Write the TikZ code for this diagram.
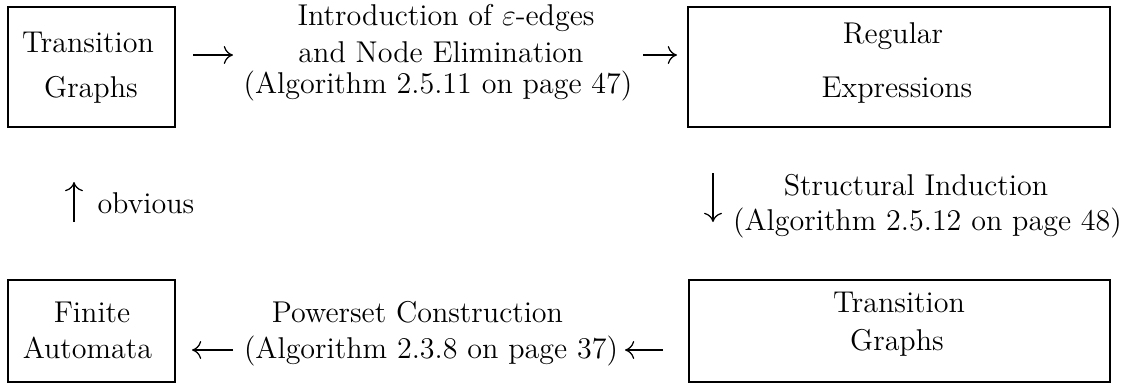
\documentclass[tikz,border=0pt]{standalone}
\usetikzlibrary{arrows.meta}
\begin{document}
\begin{tikzpicture}[x=0.399pt,y=-0.399pt,
  font=\fontsize{12pt}{14.5pt}\selectfont,
  box/.style={draw,line width=1.1pt,inner sep=0pt},
  txt/.style={anchor=base,inner sep=0pt},
  conn/.style={line width=0.5pt,-{Computer Modern Rightarrow[length=3.7pt,width=7.2pt]}}]
\useasboundingbox (0,0) rectangle (1126,383);
% boxes
\node[box,minimum width=66.6pt,minimum height=47.9pt] (tg1) at (91.5,67) {};
\node[box,minimum width=168.3pt,minimum height=47.9pt] (re) at (899,67) {};
\node[box,minimum width=66.6pt,minimum height=40.7pt] (fa) at (91.5,331) {};
\node[box,minimum width=167.9pt,minimum height=40.7pt] (tg2) at (899.5,331) {};
% box texts
\node[txt] (tg1a) at (88,52) {Transition};
\node[txt] (tg1b) at (91,97) {Graphs};
\node[txt] (rea) at (893,43) {Regular};
\node[txt] (reb) at (897,97) {Expressions};
\node[txt] (faa) at (92,322) {Finite};
\node[txt] (fab) at (87.5,358) {Automata};
\node[txt] (tg2a) at (899,312) {Transition};
\node[txt] (tg2b) at (897,350) {Graphs};
% labels
\node[txt] (l1a) at (446,25) {Introduction of $\varepsilon$-edges};
\node[txt] (l1b) at (441,62) {and Node Elimination};
\node[txt] (l1c) at (438,93) {(Algorithm 2.5.11 on page 47)};
\node[txt,anchor=base west] (l2) at (97,213) {obvious};
\node[txt] (l3a) at (916,195) {Structural Induction};
\node[txt] (l3b) at (927.5,230) {(Algorithm 2.5.12 on page 48)};
\node[txt] (l4a) at (417.5,322) {Powerset Construction};
\node[txt] (l4b) at (431,358) {(Algorithm 2.3.8 on page 37)};
% arrow end points
\coordinate (a1s) at (193,55); \coordinate (a1e) at (233,55);
\coordinate (a2s) at (643,55); \coordinate (a2e) at (677,55);
\coordinate (a3s) at (74,222); \coordinate (a3e) at (74,182);
\coordinate (a4s) at (713,173); \coordinate (a4e) at (713,222);
\coordinate (a5s) at (663,350); \coordinate (a5e) at (625,350);
\coordinate (a6s) at (233,350); \coordinate (a6e) at (192,350);
\draw[conn] (a1s) -- (a1e);
\draw[conn] (a2s) -- (a2e);
\draw[conn] (a3s) -- (a3e);
\draw[conn] (a4s) -- (a4e);
\draw[conn] (a5s) -- (a5e);
\draw[conn] (a6s) -- (a6e);
\end{tikzpicture}
\end{document}
